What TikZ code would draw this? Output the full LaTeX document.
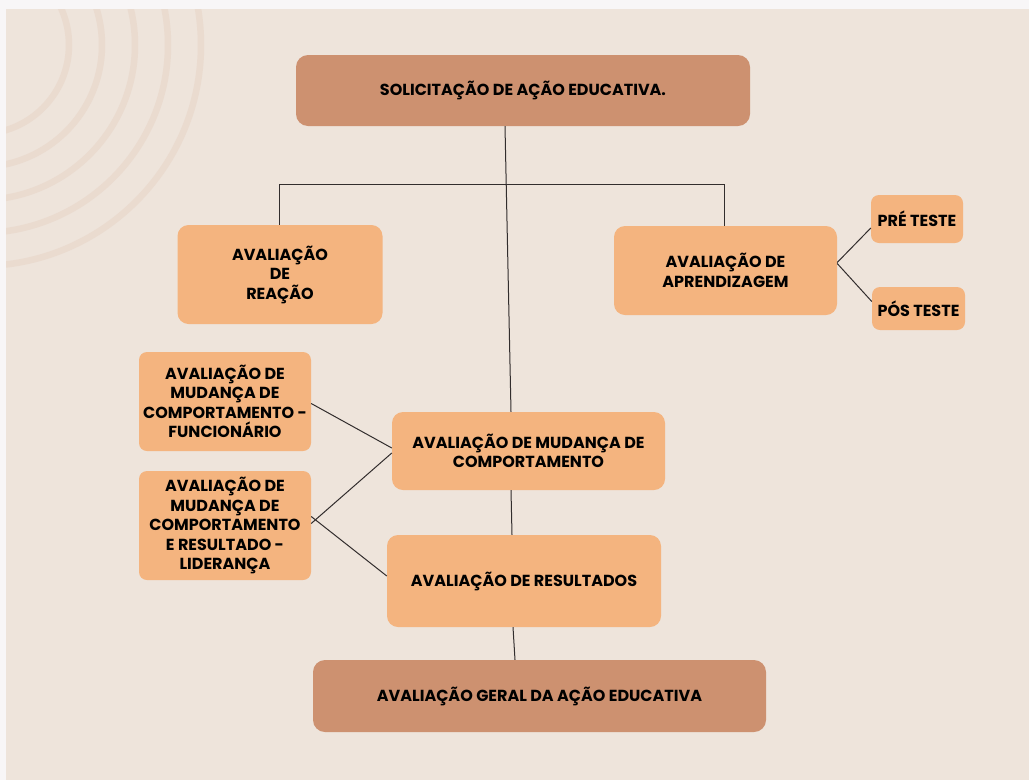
\documentclass[tikz,border=0pt]{standalone}
\usepackage{fontspec}
\setmainfont{Poppins}
\usetikzlibrary{calc}
\definecolor{outerc}{RGB}{248,246,247}
\definecolor{bgc}{RGB}{238,228,219}
\definecolor{arcc}{RGB}{234,219,207}
\definecolor{darkbox}{RGB}{205,145,112}
\definecolor{lightbox}{RGB}{244,180,127}
\definecolor{linec}{RGB}{50,45,45}
\tikzset{
  boxbase/.style={inner sep=0pt, align=center, text=black,
    font=\fontsize{16}{19.5}\selectfont\bfseries},
  darknode/.style={boxbase, fill=darkbox, rounded corners=12pt},
  lightnode/.style={boxbase, fill=lightbox, rounded corners=11pt},
  smallnode/.style={boxbase, fill=lightbox, rounded corners=8pt},
  conn/.style={draw=linec, line width=1pt},
  ring/.style={draw=arcc, line width=6.5pt}
}
\begin{document}
\begin{tikzpicture}[x=1pt,y=-1pt]
\useasboundingbox (0,0) rectangle (1029,780);
\fill[outerc] (0,0) rectangle (1029,780);
\fill[bgc] (6,9) rectangle (1029,780);
\begin{scope}
\clip (6,9) rectangle (1029,780);
\foreach \r in {89,122,155,188,221}{\draw[ring] (-20,45) circle (\r);}
\end{scope}

\node[darknode, minimum width=454pt, minimum height=71pt] (top) at (523,90.5) {SOLICITAÇÃO DE AÇÃO EDUCATIVA.};
\node[lightnode, minimum width=205pt, minimum height=99pt] (reacao) at (280,274.5) {AVALIAÇÃO\\DE\\REAÇÃO};
\node[lightnode, minimum width=223pt, minimum height=89pt] (aprend) at (725.5,270.5) {AVALIAÇÃO DE\\APRENDIZAGEM};
\node[smallnode, minimum width=92pt, minimum height=48pt] (pre) at (917,219) {PRÉ TESTE};
\node[smallnode, minimum width=93pt, minimum height=43pt] (pos) at (918.5,308.5) {PÓS TESTE};
\node[smallnode, minimum width=172pt, minimum height=99pt] (func) at (225,401.5) {AVALIAÇÃO DE\\MUDANÇA DE\\COMPORTAMENTO -\\FUNCIONÁRIO};
\node[smallnode, minimum width=172pt, minimum height=109pt] (lider) at (225,525.5) {AVALIAÇÃO DE\\MUDANÇA DE\\COMPORTAMENTO\\E RESULTADO -\\LIDERANÇA};
\node[lightnode, minimum width=273pt, minimum height=78pt] (mud) at (528.5,451) {AVALIAÇÃO DE MUDANÇA DE\\COMPORTAMENTO};
\node[lightnode, minimum width=274pt, minimum height=92pt] (res) at (524,581) {AVALIAÇÃO DE RESULTADOS};
\node[darknode, minimum width=453pt, minimum height=72pt] (geral) at (539.5,696) {AVALIAÇÃO GERAL DA AÇÃO EDUCATIVA};

\draw[conn] ($(top.south)+(-18,0)$) -- ($(mud.north)+(-17.5,0)$);
\draw[conn] ($(reacao.north)+(-1,0)$) -- ++(0,-40) -| ($(aprend.north)+(-1.5,0)$);
\draw[conn] ($(aprend.east)+(0,-8)$) -- ($(pre.west)+(0,9)$);
\draw[conn] ($(aprend.east)+(0,-7)$) -- ($(pos.west)+(0,-7)$);
\draw[conn] ($(func.east)+(0,2)$) -- ($(mud.west)+(0,-3)$);
\draw[conn] ($(lider.east)+(0,-2)$) -- ($(mud.west)+(0,2)$);
\draw[conn] ($(lider.east)+(0,-9)$) -- ($(res.west)+(0,-5)$);
\draw[conn] ($(mud.south)+(-17.5,0)$) -- ($(res.north)+(-12,0)$);
\draw[conn] ($(res.south)+(-11,0)$) -- ($(geral.north)+(-24.5,0)$);
\end{tikzpicture}
\end{document}
